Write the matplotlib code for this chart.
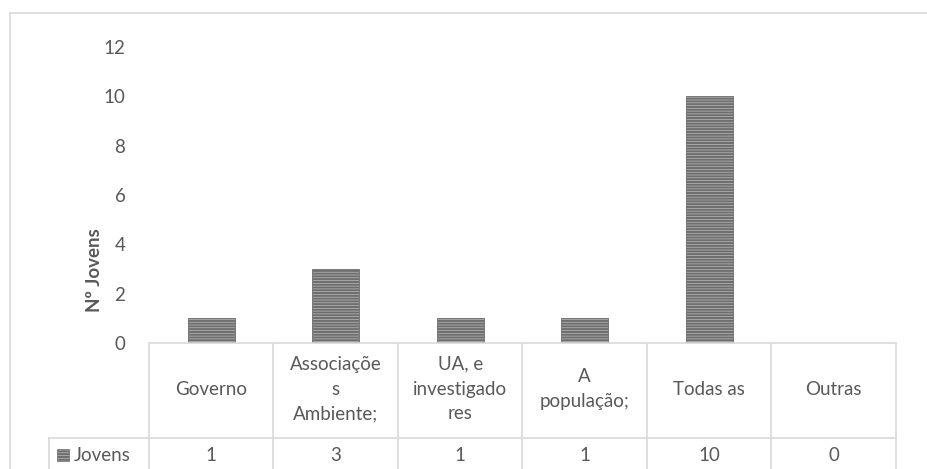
import matplotlib.pyplot as plt
from matplotlib.transforms import blended_transform_factory
from matplotlib.patches import Rectangle
import matplotlib as mpl

# data
categories = ["Governo", "Associaçõe\ns\nAmbiente;", "UA, e\ninvestigado\nres",
              "A\npopulação;", "Todas as", "Outras"]
values = [1, 3, 1, 1, 10, 0]
series_name = "Jovens"
y_ticks = [0, 2, 4, 6, 8, 10, 12]

plt.rcParams['font.family'] = ['Lato', 'DejaVu Sans']
mpl.rcParams['hatch.color'] = '#4a4a4a'
mpl.rcParams['hatch.linewidth'] = 1.5

W, H = 928, 469
text_col = '#595959'
line_col = '#d9d9d9'
fs = 13.5

fig = plt.figure(figsize=(W / 100, H / 100), dpi=100)
ax = fig.add_axes([149 / W, (H - 343) / H, (896 - 149) / W, (343 - 47) / H])

x = list(range(len(categories)))
ax.bar(x, values, width=0.38, color='#bdbdbd', edgecolor='#6e6e6e', linewidth=0.6,
       hatch='------')
ax.set_xlim(-0.5, len(categories) - 0.5)
ax.set_ylim(0, 12)
ax.set_yticks(y_ticks)
ax.tick_params(axis='y', length=0, pad=17, labelsize=fs, labelcolor=text_col)
ax.set_xticks([])
for s in ['top', 'right', 'left']:
    ax.spines[s].set_visible(False)
ax.spines['bottom'].set_color(line_col)
ax.spines['bottom'].set_linewidth(1.2)

fig.text(95 / W, 1 - 270 / H, "Nº Jovens", rotation=90, ha='center', va='center',
         fontsize=fs, fontweight='bold', color=text_col)

# data table below the axis
tr = blended_transform_factory(ax.transData, fig.transFigure)
y_top = 1 - 344 / H
y_mid = 1 - 438 / H
for i in range(len(categories) + 1):
    ax.plot([i - 0.5, i - 0.5], [0, y_top], transform=tr, color=line_col, lw=1.2,
            clip_on=False)
ax.plot([-0.5, len(categories) - 0.5], [y_mid, y_mid], transform=tr, color=line_col,
        lw=1.2, clip_on=False)
fig.add_artist(plt.Line2D([49 / W, 149 / W], [y_mid, y_mid], color=line_col, lw=1.2))
fig.add_artist(plt.Line2D([49 / W, 49 / W], [0, y_mid], color=line_col, lw=1.2))

for i, (cat, v) in enumerate(zip(categories, values)):
    ax.text(i, 1 - 389 / H, cat, transform=tr, ha='center', va='center', fontsize=fs,
            color=text_col, linespacing=1.55)
    ax.text(i, 1 - 455 / H, str(v), transform=tr, ha='center', va='center', fontsize=fs,
            color=text_col)

fig.add_artist(Rectangle((57 / W, 1 - 461 / H), 12 / W, 12 / H, transform=fig.transFigure,
                         facecolor='#bdbdbd', edgecolor='#6e6e6e', lw=0.5, hatch='------'))
fig.text(74 / W, 1 - 455 / H, series_name, ha='left', va='center', fontsize=fs,
         color=text_col)

# outer chart border
fig.add_artist(plt.Line2D([10 / W, 10 / W], [0, 1 - 13 / H], color=line_col, lw=1.2))
fig.add_artist(plt.Line2D([10 / W, 1], [1 - 13 / H, 1 - 13 / H], color=line_col, lw=1.2))

fig.savefig("out.png", dpi=100)
